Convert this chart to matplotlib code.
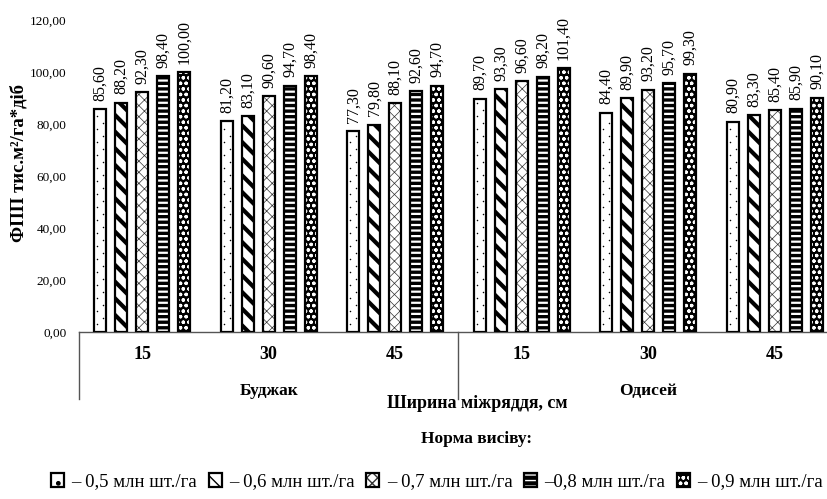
import matplotlib
matplotlib.use('Agg')
import matplotlib.pyplot as plt
from matplotlib.patches import Patch
from matplotlib.legend_handler import HandlerTuple
import numpy as np

plt.rcParams['font.family'] = ['Liberation Serif', 'DejaVu Serif']

# data
varieties = ['Буджак', 'Одисей']
widths = ['15', '30', '45', '15', '30', '45']
rate_labels = ['– 0,5 млн шт./га', '– 0,6 млн шт./га', '– 0,7 млн шт./га',
               '–0,8 млн шт./га', '– 0,9 млн шт./га']
rate_05 = [85.6, 81.2, 77.3, 89.7, 84.4, 80.9]
rate_06 = [88.2, 83.1, 79.8, 93.3, 89.9, 83.3]
rate_07 = [92.3, 90.6, 88.1, 96.6, 93.2, 85.4]
rate_08 = [98.4, 94.7, 92.6, 98.2, 95.7, 85.9]
rate_09 = [100.0, 98.4, 94.7, 101.4, 99.3, 90.1]
series = [rate_05, rate_06, rate_07, rate_08, rate_09]

# (face, hatch colour, hatch, hatch linewidth)
styles = [
    ('white', 'black', '', 1.0),
    ('white', 'black', '\\\\', 3.0),
    ('white', '#333333', 'xxx', 0.5),
    ('black', 'white', '---', 1.6),
    ('black', 'white', 'ooo', 0.9),
]


def fmt(v):
    return f'{v:.2f}'.replace('.', ',')


def set_hlw(p, lw):
    if hasattr(p, 'set_hatch_linewidth'):
        p.set_hatch_linewidth(lw)


fig = plt.figure(figsize=(8.28, 4.99), dpi=100)
ax = fig.add_axes([79 / 828, 167 / 499, 759 / 828, 312 / 499])

x = np.arange(len(widths))
pitch = 0.166
bw = 0.095
handles = []
for i, vals in enumerate(series):
    face, hcol, hatch, hlw = styles[i]
    pos = x + (i - 2) * pitch
    with plt.rc_context({'hatch.linewidth': hlw}):
        bars = ax.bar(pos, vals, bw, color=face, edgecolor=hcol, hatch=hatch, linewidth=0)
        for b in bars:
            set_hlw(b, hlw)
        hp = Patch(facecolor=face, edgecolor=hcol, hatch=hatch if hatch else '.', linewidth=0)
        set_hlw(hp, hlw * 0.6)
    if i == 0:
        # sparse tiny dots
        for xp, v in zip(pos, vals):
            ys = np.arange(3.0, v - 1.5, 2.5)
            xs = xp + np.where(np.arange(len(ys)) % 2 == 0, -0.022, 0.022)
            ax.scatter(xs, ys, s=1.2, color='black', linewidths=0, zorder=3)
    ax.bar(pos, vals, bw, fill=False, edgecolor='black', linewidth=1.6, zorder=4)
    ho = Patch(fill=False, edgecolor='black', linewidth=1.6)
    handles.append((hp, ho))
    for xp, v in zip(pos, vals):
        ax.annotate(fmt(v), (xp, v), xytext=(0, 6), textcoords='offset points',
                    rotation=90, ha='center', va='bottom', fontsize=11.5)

ax.set_xlim(-0.5, 5.5)
ax.set_ylim(0, 120)
ax.set_yticks(np.arange(0, 121, 20))
ax.set_yticklabels([fmt(v) for v in np.arange(0, 121, 20)], fontsize=9.5)
ax.set_xticks(x)
ax.set_xticklabels(widths, fontsize=13, fontweight='bold')
ax.tick_params(axis='x', length=0, pad=10)
ax.tick_params(axis='y', length=0, pad=9)
for s in ['top', 'right', 'left']:
    ax.spines[s].set_visible(False)
ax.spines['bottom'].set_color('#555555')
ax.spines['bottom'].set_linewidth(1.0)

# group separators and variety names
trans = ax.get_xaxis_transform()
for xs in [-0.5, 2.5, 5.5]:
    ax.plot([xs, xs], [0, -0.215], color='#555555', lw=1.0, transform=trans, clip_on=False)
ax.text(1, -0.19, varieties[0], transform=trans, ha='center', va='center',
        fontsize=12.5, fontweight='bold')
ax.text(4, -0.19, varieties[1], transform=trans, ha='center', va='center',
        fontsize=12.5, fontweight='bold')

ax.set_ylabel('ФПП тис.м²/га*діб', fontsize=13.5, fontweight='bold')
ax.yaxis.set_label_coords(-0.068, 0.542)

fig.text(477 / 828, 1 - 403 / 499, 'Ширина міжряддя, см', ha='center', va='center',
         fontsize=13, fontweight='bold')
fig.text(477 / 828, 1 - 439 / 499, 'Норма висіву:', ha='center', va='center',
         fontsize=12.5, fontweight='bold')

fig.legend(handles, rate_labels, handler_map={tuple: HandlerTuple(ndivide=1)},
           loc='center', bbox_to_anchor=(437 / 828, 1 - 482 / 499), ncol=5,
           frameon=False, fontsize=13.5, handlelength=0.7, handleheight=0.7,
           handletextpad=0.4, columnspacing=0.6, borderpad=0)

fig.savefig('out.png', dpi=100)
